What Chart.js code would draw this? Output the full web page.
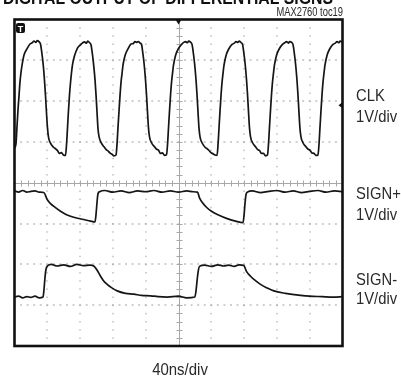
<!DOCTYPE html><html><head>
<title>MAX2760 toc19</title>
<style>
  body { margin: 0; background: #fff; }
</style>
</head>
<body>
<canvas id="chart" width="401" height="378"></canvas>
<script src="https://cdn.jsdelivr.net/npm/chart.js"></script>
<script>
// time in ns (40ns/div, 10 div), level in divisions (1V/div, 8 div, 0 = centre line)
const clkT = [
  0, 1.8, 3.0, 4.3, 5.5, 6.7, 7.9, 9.1, 11.6, 15.2, 18.9, 21.6, 23.8, 26.1, 27.6, 30.1,
  31.7, 32.9, 34.1, 35.4, 36.6, 37.8, 39.0, 40.2, 41.5, 43.9, 47.6, 50.2, 52.4, 54.7, 57.3, 59.7,
  62.2, 63.4, 64.6, 65.9, 67.1, 68.3, 69.5, 70.7, 73.2, 76.8, 80.5, 83.2, 85.4, 87.7, 89.2, 91.7,
  93.3, 94.5, 95.7, 97.0, 98.2, 99.4, 100.6, 101.8, 103.1, 105.5, 109.2, 111.8, 114.0, 116.3, 118.9, 121.3,
  123.8, 125.0, 126.2, 127.5, 128.7, 129.9, 131.1, 132.3, 134.8, 138.4, 142.1, 144.8, 147.0, 149.3, 150.8, 153.3,
  154.9, 156.1, 157.3, 158.6, 159.8, 161.0, 162.2, 163.4, 164.7, 167.1, 170.8, 173.4, 175.6, 177.9, 180.5, 182.9,
  185.4, 186.6, 187.8, 189.1, 190.3, 191.5, 192.7, 193.9, 196.4, 200.0, 203.7, 206.4, 208.6, 210.9, 212.4, 214.9,
  216.5, 217.7, 218.9, 220.2, 221.4, 222.6, 223.8, 225.0, 226.3, 228.7, 232.4, 235.0, 237.2, 239.5, 242.1, 244.5,
  247.0, 248.2, 249.4, 250.7, 251.9, 253.1, 254.3, 255.5, 258.0, 261.6, 265.3, 268.0, 270.2, 272.5, 274.0, 276.5,
  278.1, 279.3, 280.5, 281.8, 283.0, 284.2, 285.4, 286.6, 287.9, 290.3, 294.0, 296.6, 298.8, 301.1, 303.7, 306.1,
  308.5, 309.7, 310.9, 312.2, 313.4, 314.6, 315.8, 317.0, 319.5, 323.1, 326.8, 329.5, 331.7, 334.0, 335.5, 338.0,
  339.6, 340.8, 342.0, 343.3, 344.5, 345.7, 346.9, 348.1, 349.4, 351.8, 355.5, 358.1, 360.3, 362.6, 365.2, 367.6,
  370.1, 371.3, 372.5, 373.8, 375.0, 376.2, 377.4, 378.6, 381.1, 384.7, 388.4, 391.1, 393.3, 395.6, 397.1, 400
];
const clkV = [
  0.85, 0.95, 1.36, 1.80, 2.13, 2.47, 2.70, 2.87, 3.13, 3.28, 3.40, 3.43, 3.47, 3.44, 3.48, 3.45,
  3.40, 3.25, 3.06, 2.81, 2.50, 2.14, 1.72, 1.35, 1.11, 0.97, 0.87, 0.83, 0.79, 0.72, 0.74, 0.68,
  0.67, 0.92, 1.33, 1.79, 2.16, 2.45, 2.69, 2.89, 3.11, 3.30, 3.38, 3.43, 3.45, 3.42, 3.47, 3.43,
  3.38, 3.23, 3.04, 2.79, 2.52, 2.16, 1.74, 1.33, 1.13, 0.99, 0.88, 0.81, 0.78, 0.73, 0.70, 0.66,
  0.68, 0.94, 1.35, 1.77, 2.14, 2.46, 2.67, 2.88, 3.12, 3.28, 3.40, 3.41, 3.46, 3.44, 3.46, 3.42,
  3.39, 3.24, 3.05, 2.80, 2.51, 2.15, 1.73, 1.34, 1.12, 0.98, 0.88, 0.82, 0.80, 0.72, 0.73, 0.67,
  0.69, 0.93, 1.34, 1.78, 2.15, 2.46, 2.68, 2.88, 3.12, 3.29, 3.39, 3.44, 3.46, 3.43, 3.47, 3.44,
  3.39, 3.24, 3.05, 2.80, 2.51, 2.15, 1.73, 1.34, 1.12, 0.98, 0.87, 0.83, 0.79, 0.74, 0.71, 0.68,
  0.67, 0.93, 1.34, 1.78, 2.15, 2.46, 2.68, 2.88, 3.12, 3.29, 3.39, 3.42, 3.46, 3.44, 3.47, 3.43,
  3.39, 3.24, 3.05, 2.80, 2.51, 2.15, 1.73, 1.34, 1.12, 0.98, 0.88, 0.81, 0.79, 0.72, 0.72, 0.66,
  0.68, 0.93, 1.34, 1.78, 2.15, 2.46, 2.68, 2.88, 3.12, 3.29, 3.39, 3.43, 3.46, 3.42, 3.46, 3.44,
  3.39, 3.24, 3.05, 2.80, 2.51, 2.15, 1.73, 1.34, 1.12, 0.98, 0.88, 0.82, 0.80, 0.73, 0.72, 0.67,
  0.68, 0.93, 1.34, 1.78, 2.15, 2.46, 2.68, 2.88, 3.12, 3.29, 3.39, 3.42, 3.46, 3.43, 3.47, 3.44
];
const posT = [
  0, 5, 10, 15, 20, 25, 30, 35.7,
  39.9, 43.9, 50.0, 56.1, 62.2, 68.3, 76.8, 84.1, 92.7, 98.2,
  99.4, 100.6, 101.8, 103.7,
  110, 120, 130, 140, 150, 160, 170, 180, 190, 200, 210, 218, 223.2,
  225.6, 229.3, 234.1, 240.2, 248.8, 259.4, 269.5, 278.7,
  279.9, 281.1, 282.3, 284.1,
  290, 300, 310, 320, 330, 340, 350, 360, 370, 380, 390, 400
];
const posV = [
  -0.20, -0.23, -0.19, -0.23, -0.21, -0.20, -0.23, -0.24,
  -0.41, -0.51, -0.61, -0.70, -0.77, -0.82, -0.87, -0.90, -0.94, -0.96,
  -0.78, -0.49, -0.27, -0.22,
  -0.19, -0.23, -0.20, -0.24, -0.20, -0.22, -0.19, -0.23, -0.20, -0.23, -0.20, -0.22, -0.23,
  -0.37, -0.49, -0.60, -0.70, -0.79, -0.88, -0.94, -0.98,
  -0.80, -0.51, -0.29, -0.23,
  -0.20, -0.24, -0.21, -0.19, -0.23, -0.20, -0.24, -0.21, -0.19, -0.23, -0.20, -0.22
];
const negT = [
  0, 5, 10, 15, 20, 25, 30, 34.8,
  36.0, 37.2, 38.4, 40.2,
  45, 52, 60, 68, 76, 84, 92, 96.7,
  100, 104.9, 108.5, 113.0, 118.3, 125.2, 135.4, 145.5, 155, 165.9, 175, 186.2, 200, 210, 219.9,
  221.3, 222.6, 223.8, 225.6,
  232, 240, 248, 255, 261, 268, 274, 279.6,
  282.9, 287.8, 293.9, 300, 307.3, 316.2, 330.5, 348.8, 360, 375, 389.0, 400
];
const negV = [
  -2.80, -2.78, -2.82, -2.79, -2.81, -2.78, -2.82, -2.80,
  -2.61, -2.32, -2.12, -2.04,
  -2.00, -2.04, -2.01, -2.05, -2.00, -2.03, -2.02, -2.04,
  -2.12, -2.29, -2.40, -2.49, -2.57, -2.65, -2.71, -2.73, -2.76, -2.77, -2.79, -2.80, -2.78, -2.82, -2.80,
  -2.66, -2.41, -2.20, -2.05,
  -2.02, -2.05, -2.01, -2.04, -2.02, -2.05, -2.01, -2.03,
  -2.17, -2.29, -2.40, -2.49, -2.57, -2.65, -2.71, -2.76, -2.78, -2.79, -2.80, -2.79
];
const channelNames = ['CLK', 'SIGN+', 'SIGN-'];

function pts(ts, vs) {
  return ts.map((t, i) => ({ x: t, y: vs[i] }));
}

// condensed look: Liberation Sans squeezed horizontally
function narrowText(ctx, text, x, y, size, sx, align, weight) {
  ctx.save();
  ctx.font = (weight || 'normal') + ' ' + size + 'px "Liberation Sans", Arial, sans-serif';
  ctx.textAlign = align || 'left';
  ctx.translate(x, y);
  ctx.scale(sx, 1);
  ctx.fillText(text, 0, 0);
  ctx.restore();
}

const scopePlugin = {
  id: 'scope',
  beforeDatasetsDraw(chart) {
    const { ctx, chartArea: a, scales: { x, y } } = chart;
    ctx.save();
    ctx.fillStyle = '#a0a0a0';
    // dotted graticule
    for (let i = 1; i < 10; i++) {
      if (i === 5) continue;
      const px = Math.round(x.getPixelForValue(i * 40));
      for (let j = 1; j < 40; j++) {
        const py = y.getPixelForValue(-4 + j * 0.2);
        ctx.fillRect(px - 0.5, py - 0.5, 1, 1.5);
      }
    }
    for (let k = -3; k <= 3; k++) {
      if (k === 0) continue;
      const py = Math.round(y.getPixelForValue(k));
      for (let j = 1; j < 50; j++) {
        const px = x.getPixelForValue(j * 8);
        ctx.fillRect(px - 1, py - 0.5, 2, 1);
      }
    }
    // centre crosshair with minor ticks
    const cx = Math.round(x.getPixelForValue(200)) + 0.5;
    const cy = Math.round(y.getPixelForValue(0)) + 0.5;
    ctx.strokeStyle = '#a8a8a8';
    ctx.lineWidth = 1;
    ctx.beginPath();
    ctx.moveTo(a.left, cy); ctx.lineTo(a.right, cy);
    ctx.moveTo(cx, a.top); ctx.lineTo(cx, a.bottom);
    for (let j = 1; j < 50; j++) {
      const px = Math.round(x.getPixelForValue(j * 8)) + 0.5;
      ctx.moveTo(px, cy - 3); ctx.lineTo(px, cy + 3);
    }
    for (let j = 1; j < 40; j++) {
      const py = Math.round(y.getPixelForValue(-4 + j * 0.2)) + 0.5;
      ctx.moveTo(cx - 3, py); ctx.lineTo(cx + 3, py);
    }
    ctx.stroke();
    ctx.restore();
  },
  afterDatasetsDraw(chart) {
    const { ctx, chartArea: a, scales: { x, y } } = chart;
    ctx.save();
    // frame
    ctx.strokeStyle = '#111';
    ctx.lineWidth = 2.6;
    ctx.strokeRect(a.left, a.top, a.right - a.left, a.bottom - a.top);
    // trigger markers
    ctx.fillStyle = '#111';
    const cx = x.getPixelForValue(200);
    ctx.beginPath();
    ctx.moveTo(cx - 3, a.top); ctx.lineTo(cx + 3, a.top); ctx.lineTo(cx, a.top + 5);
    ctx.fill();
    const ty = y.getPixelForValue(1.9);
    ctx.beginPath();
    ctx.moveTo(a.right, ty - 3); ctx.lineTo(a.right, ty + 3); ctx.lineTo(a.right - 4, ty);
    ctx.fill();
    ctx.beginPath();
    ctx.roundRect(a.left + 1.5, a.top + 3.5, 9, 10, 2);
    ctx.fill();
    ctx.fillStyle = '#fff';
    narrowText(ctx, 'T', a.left + 6, a.top + 12, 9, 1, 'center', 'bold');
    // texts
    ctx.fillStyle = '#111';
    const title = 'DIGITAL OUTPUT OF DIFFERENTIAL SIGNS';
    ctx.font = 'bold 18px "Liberation Sans", Arial, sans-serif';
    const tw = ctx.measureText(title).width;
    narrowText(ctx, title, 3, 3.5, 18, 330 / tw, 'left', 'bold');
    ctx.fillStyle = '#2a2a2a';
    narrowText(ctx, 'MAX2760 toc19', 343, 15.5, 13, 0.72, 'right');
    const lx = a.right + 13.5;
    narrowText(ctx, channelNames[0], lx, 101, 17, 0.87);
    narrowText(ctx, '1V/div', lx, 122, 17, 0.87);
    narrowText(ctx, channelNames[1], lx, 198.5, 17, 0.87);
    narrowText(ctx, '1V/div', lx, 220, 17, 0.87);
    narrowText(ctx, channelNames[2], lx, 285, 17, 0.87);
    narrowText(ctx, '1V/div', lx, 304, 17, 0.87);
    narrowText(ctx, '40ns/div', cx + 1.5, 375, 17, 0.88, 'center');
    ctx.restore();
  }
};

const ctx = document.getElementById('chart').getContext('2d');
const chart = new Chart(ctx, {
  type: 'line',
  data: {
    datasets: [
      { label: channelNames[0], data: pts(clkT, clkV) },
      { label: channelNames[1], data: pts(posT, posV) },
      { label: channelNames[2], data: pts(negT, negV) }
    ]
  },
  options: {
    responsive: false,
    animation: false,
    layout: { padding: { left: 14.5, right: 58.5, top: 19.5, bottom: 32 } },
    scales: {
      x: { type: 'linear', min: 0, max: 400, display: false },
      y: { type: 'linear', min: -4, max: 4, display: false }
    },
    elements: {
      point: { radius: 0 },
      line: { borderColor: '#151515', borderWidth: 1.7, cubicInterpolationMode: 'monotone' }
    },
    plugins: { legend: { display: false }, tooltip: { enabled: false } }
  },
  plugins: [scopePlugin]
});
</script>
</body></html>
